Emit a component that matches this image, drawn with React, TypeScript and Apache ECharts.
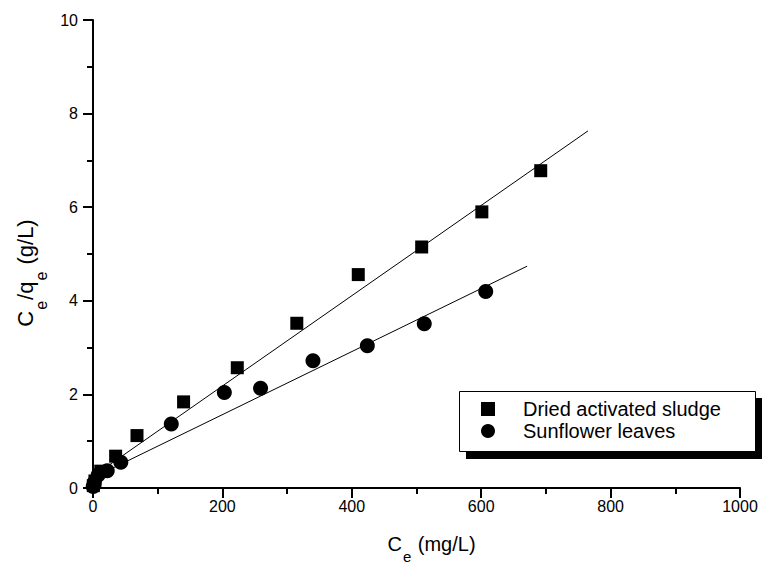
import React, { useEffect, useRef } from "react";
import * as echarts from "echarts";

// Langmuir linearised isotherm data
const sludgeCe = [0.5, 3, 12, 35, 68, 140, 223, 315, 410, 508, 601, 692];
const sludgeRatio = [0.05, 0.15, 0.36, 0.68, 1.12, 1.84, 2.57, 3.52, 4.56, 5.15, 5.9, 6.78];
const leavesCe = [0.3, 2, 8, 22, 43, 121, 203, 259, 340, 424, 512, 607];
const leavesRatio = [0.03, 0.12, 0.28, 0.37, 0.55, 1.37, 2.04, 2.13, 2.72, 3.04, 3.51, 4.2];

// fitted straight lines (end points)
const sludgeFitCe = [0, 765];
const sludgeFitRatio = [0.25, 7.63];
const leavesFitCe = [0, 671];
const leavesFitRatio = [0.22, 4.74];

const seriesNames = ["Dried activated sludge", "Sunflower leaves"];
const xTicks = { min: 0, max: 1000, interval: 200 };
const yTicks = { min: 0, max: 10, interval: 2 };

const FONT = "'Liberation Sans', Arial, Helvetica, sans-serif";

const zip = (a: number[], b: number[]) => a.map((v, i) => [v, b[i]]);

export default function App() {
  const ref = useRef<HTMLDivElement>(null);
  useEffect(() => {
    if (!ref.current) return;
    const chart = echarts.init(ref.current, undefined, { renderer: "svg" });
    chart.setOption({
      animation: false,
      backgroundColor: "#fff",
      textStyle: { fontFamily: FONT, color: "#000" },
      grid: { left: 93, right: 22, top: 20, bottom: 83, containLabel: false },
      xAxis: {
        type: "value",
        min: xTicks.min,
        max: xTicks.max,
        interval: xTicks.interval,
        name: "{m|C}{s|e}{m| (mg/L)}",
        nameLocation: "middle",
        nameGap: 46,
        nameTextStyle: {
          rich: {
            m: { fontSize: 20, lineHeight: 22, verticalAlign: "top", fontFamily: FONT, color: "#000" },
            s: { fontSize: 15, lineHeight: 16, verticalAlign: "top", fontFamily: FONT, color: "#000", padding: [15, 1, 0, 1] },
          },
          padding: [0, 0, 0, 30],
        },
        axisLine: { show: true, onZero: false, lineStyle: { color: "#000", width: 2 } },
        axisTick: { show: true, inside: false, length: 10, lineStyle: { color: "#000", width: 2 } },
        minorTick: { show: true, splitNumber: 2, length: 6, lineStyle: { color: "#000", width: 2 } },
        axisLabel: { margin: 10, fontSize: 16, color: "#000", fontFamily: FONT, formatter: (v: number) => String(v) },
        splitLine: { show: false },
      },
      yAxis: {
        type: "value",
        min: yTicks.min,
        max: yTicks.max,
        interval: yTicks.interval,
        name: "{m|C}{s|e}{m|/q}{s|e}{m| (g/L)}",
        nameLocation: "middle",
        nameGap: 42,
        nameTextStyle: {
          rich: {
            m: { fontSize: 22, lineHeight: 26, verticalAlign: "top", fontFamily: FONT, color: "#000" },
            s: { fontSize: 16, lineHeight: 18, verticalAlign: "top", fontFamily: FONT, color: "#000", padding: [19, 1, 0, 1] },
          },
          padding: [0, 38, 0, 0],
        },
        axisLine: { show: true, onZero: false, lineStyle: { color: "#000", width: 2 } },
        axisTick: { show: true, inside: false, length: 10, lineStyle: { color: "#000", width: 2 } },
        minorTick: { show: true, splitNumber: 2, length: 6, lineStyle: { color: "#000", width: 2 } },
        axisLabel: { margin: 15, fontSize: 16, color: "#000", fontFamily: FONT, formatter: (v: number) => String(v) },
        splitLine: { show: false },
      },
      legend: {
        orient: "vertical",
        left: 481,
        top: 398,
        padding: 0,
        itemGap: 0,
        itemWidth: 14,
        itemHeight: 14,
        z: 20,
        selectedMode: false,
        itemStyle: { color: "#000", opacity: 1 },
        textStyle: { fontSize: 20, lineHeight: 22, color: "#000", fontFamily: FONT, padding: [0, 0, 0, 23] },
        data: [
          { name: seriesNames[0], icon: "rect" },
          { name: seriesNames[1], icon: "circle" },
        ],
      },
      graphic: [
        { type: "rect", z: 10, shape: { x: 466, y: 398, width: 300, height: 61 }, style: { fill: "#000" } },
        { type: "rect", z: 11, shape: { x: 459.5, y: 391.5, width: 296, height: 60 }, style: { fill: "#fff", stroke: "#000", lineWidth: 1 } },
      ],
      series: [
        {
          name: "sludge fit",
          type: "line",
          data: zip(sludgeFitCe, sludgeFitRatio),
          showSymbol: false,
          symbol: "none",
          lineStyle: { color: "#000", width: 1 },
          z: 1,
        },
        {
          name: "leaves fit",
          type: "line",
          data: zip(leavesFitCe, leavesFitRatio),
          showSymbol: false,
          symbol: "none",
          lineStyle: { color: "#000", width: 1 },
          z: 1,
        },
        {
          name: seriesNames[0],
          type: "scatter",
          symbol: "rect",
          symbolSize: 13,
          clip: false,
          itemStyle: { color: "#000", opacity: 1 },
          data: zip(sludgeCe, sludgeRatio),
          z: 3,
        },
        {
          name: seriesNames[1],
          type: "scatter",
          symbol: "circle",
          symbolSize: 15,
          clip: false,
          itemStyle: { color: "#000", opacity: 1 },
          data: zip(leavesCe, leavesRatio),
          z: 3,
        },
      ],
    });
    return () => chart.dispose();
  }, []);
  return (
    <div
      ref={ref}
      style={{ position: "absolute", left: 0, top: 0, width: 762, height: 571, background: "#fff" }}
    />
  );
}
